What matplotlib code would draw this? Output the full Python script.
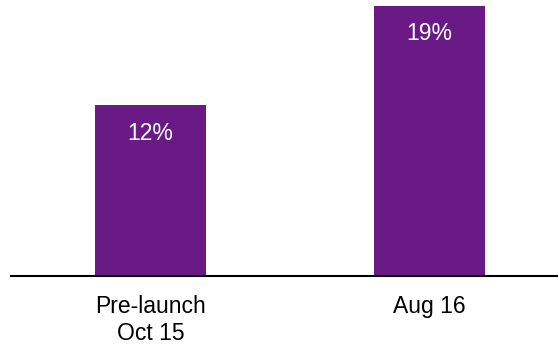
import numpy as np
import matplotlib.pyplot as plt

plt.rcParams['font.family'] = ['Liberation Sans', 'DejaVu Sans']

categories = ["Pre-launch\nOct 15", "Aug 16"]
values = [12, 19]
labels = ["12%", "19%"]

fig = plt.figure(figsize=(5.58, 3.45), dpi=100)
ax = fig.add_axes([11 / 558, 69 / 345, 547 / 558, 276 / 345])

x = np.arange(len(categories))
bars = ax.bar(x, values, width=0.4, color="#6a1a85")

for b, lab in zip(bars, labels):
    ax.annotate(lab, (b.get_x() + b.get_width() / 2, b.get_height()),
                xytext=(0, -20), textcoords="offset points",
                ha="center", va="center", color="white", fontsize=16.5)

ax.set_xlim(-0.5, 1.46)
ax.set_ylim(0, 19.42)
ax.set_xticks(x)
ax.set_xticklabels(categories, fontsize=16.5, linespacing=1.2)
ax.tick_params(axis="x", length=0, pad=14)
ax.set_yticks([])
for s in ["top", "left", "right"]:
    ax.spines[s].set_visible(False)
ax.spines["bottom"].set_linewidth(1.5)

fig.savefig("out.png", dpi=100)
